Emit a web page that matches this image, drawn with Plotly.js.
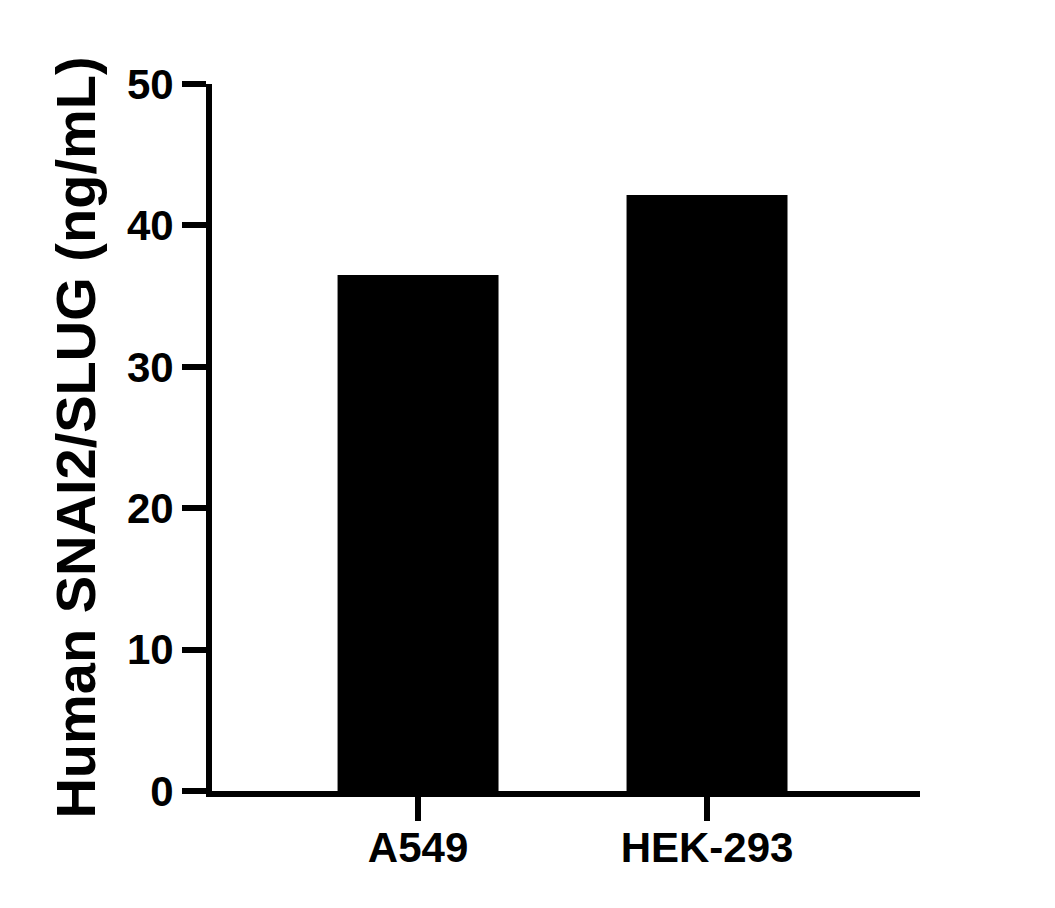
<!DOCTYPE html>
<html>
<head>
<meta charset="utf-8">
<script src="https://cdn.plot.ly/plotly-3.0.1.min.js"></script>
<style>
  html, body { margin: 0; padding: 0; background: #ffffff; }
  #plot { width: 1055px; height: 908px; }
</style>
</head>
<body>
<div id="plot"></div>
<script>

// Cell lines and measured concentrations
const cell_lines = ["A549", "HEK-293"];
const slug_ngml = [36.5, 42.15];

// Y axis ticks
const y_tickvals = [0, 10, 20, 30, 40, 50];
const y_ticktext = ["0", "10", "20", "30", "40", "50"];

const axis_font = {
  family: "Liberation Sans, Arial, sans-serif",
  size: 42,
  color: "#000000",
  weight: "bold"
};

let data = [{
  x: cell_lines,
  y: slug_ngml,
  type: "bar",
  width: 0.557,
  marker: {
    color: "#000000",
    line: { width: 0 }
  },
  hoverinfo: "none",
  showlegend: false
}];

let layout = {
  width: 1055,
  height: 908,
  paper_bgcolor: "#ffffff",
  plot_bgcolor: "#ffffff",
  margin: { l: 212, r: 135, t: 84, b: 117 },
  xaxis: {
    type: "category",
    range: [-0.713, 1.737],
    showgrid: false,
    zeroline: false,
    showline: true,
    linecolor: "#000000",
    linewidth: 6,
    ticks: "outside",
    ticklen: 24,
    tickwidth: 6,
    tickcolor: "#000000",
    tickfont: axis_font,
    ticklabelstandoff: -9,
    fixedrange: true
  },
  yaxis: {
    range: [0, 50],
    showgrid: false,
    zeroline: false,
    showline: true,
    linecolor: "#000000",
    linewidth: 6,
    ticks: "outside",
    ticklen: 24,
    tickwidth: 6,
    tickcolor: "#000000",
    tickmode: "array",
    tickvals: y_tickvals,
    ticktext: y_ticktext,
    tickfont: axis_font,
    fixedrange: true,
    title: {
      text: "Human SNAI2/SLUG (ng/mL)",
      standoff: 15,
      font: {
        family: "Liberation Sans, Arial, sans-serif",
        size: 56,
        color: "#000000",
        weight: "bold"
      }
    }
  }
};

let config = { displayModeBar: false, staticPlot: true };

Plotly.newPlot("plot", data, layout, config);

</script>
</body>
</html>
